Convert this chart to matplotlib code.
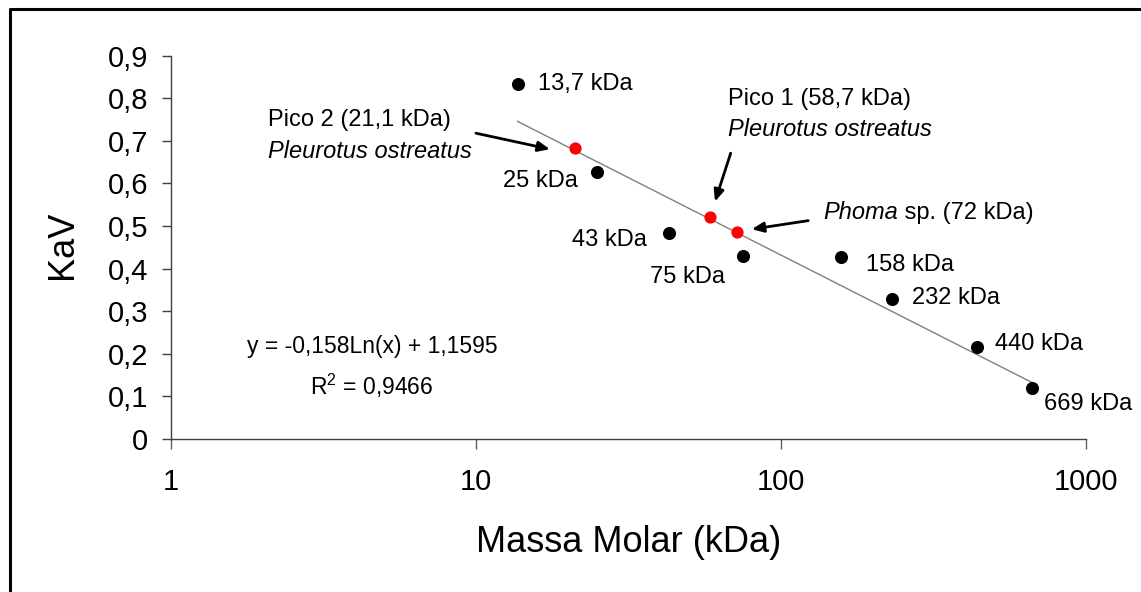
import numpy as np
import matplotlib
matplotlib.use("Agg")
import matplotlib.pyplot as plt
from matplotlib.lines import Line2D

plt.rcParams['font.family'] = ['Liberation Sans', 'DejaVu Sans']
plt.rcParams['mathtext.fontset'] = 'custom'
plt.rcParams['mathtext.rm'] = 'Liberation Sans'
plt.rcParams['mathtext.it'] = 'Liberation Sans:italic'

# padrões de calibração (massa molar em kDa, KaV)
padrao_mm = [13.7, 25, 43, 75, 158, 232, 440, 669]
padrao_kav = [0.834, 0.628, 0.483, 0.430, 0.427, 0.328, 0.215, 0.120]
padrao_rot = ['13,7 kDa', '25 kDa', '43 kDa', '75 kDa', '158 kDa', '232 kDa', '440 kDa', '669 kDa']

# amostras
amostra_mm = [21.1, 58.7, 72]
amostra_kav = [0.684, 0.521, 0.487]

# ajuste logaritmico
coef_a = -0.158
coef_b = 1.1595
r2 = '0,9466'

y_ticks = [0, 0.1, 0.2, 0.3, 0.4, 0.5, 0.6, 0.7, 0.8, 0.9]
y_ticklabels = ['0', '0,1', '0,2', '0,3', '0,4', '0,5', '0,6', '0,7', '0,8', '0,9']
x_ticks = [1, 10, 100, 1000]
x_ticklabels = ['1', '10', '100', '1000']

# deslocamento dos rótulos (pontos) e alinhamento
desloc = [(15, 0, 'left'), (-14, -7, 'right'), (-16, -5, 'right'), (-13, -15, 'right'),
          (18, -6, 'left'), (14, 0.5, 'left'), (13, 2.5, 'left'), (8, -12, 'left')]

fig = plt.figure(figsize=(11.41, 5.92), dpi=100)
ax = fig.add_axes([0.1499, 0.259, 0.8016, 0.6466])

xs = np.geomspace(padrao_mm[0], padrao_mm[-1], 60)
ax.plot(xs, coef_a * np.log(xs) + coef_b, color='#808080', lw=1.0, zorder=2)
ax.plot(padrao_mm, padrao_kav, 'o', color='black', ms=8.4, zorder=3)
ax.plot(amostra_mm, amostra_kav, 'o', color='#ff0000', ms=7.8, zorder=3)

for x, y, rot, (dx, dy, ha) in zip(padrao_mm, padrao_kav, padrao_rot, desloc):
    ax.annotate(rot, (x, y), xytext=(dx, dy), textcoords='offset points',
                ha=ha, va='center', fontsize=17)

ax.set_xscale('log')
ax.set_xlim(1, 1000)
ax.set_ylim(0, 0.9)
ax.set_xticks(x_ticks)
ax.set_xticklabels(x_ticklabels)
ax.xaxis.set_minor_locator(matplotlib.ticker.NullLocator())
ax.set_yticks(y_ticks)
ax.set_yticklabels(y_ticklabels)

for s in ['top', 'right']:
    ax.spines[s].set_visible(False)
for s in ['left', 'bottom']:
    ax.spines[s].set_color('#404040')
    ax.spines[s].set_linewidth(1.0)
ax.tick_params(axis='y', length=6.5, width=1, color='#404040', labelsize=21, pad=10)
ax.tick_params(axis='x', length=7, width=1, color='#606060', labelsize=21, pad=14)

ax.set_xlabel('Massa Molar (kDa)', fontsize=26)
ax.set_ylabel('KaV', fontsize=26)
ax.xaxis.set_label_coords(0.5, -0.2725)
ax.xaxis.label.set_va('center')
ax.yaxis.set_label_coords(-0.1192, 0.506)
ax.yaxis.label.set_va('center')

# equação da curva
ax.text(0.2197, 0.2396, 'y = -0,158Ln(x) + 1,1595', transform=ax.transAxes,
        ha='center', va='center', fontsize=16.5)
ax.text(0.2197, 0.1377, r'R$^2$ = ' + r2, transform=ax.transAxes,
        ha='center', va='center', fontsize=16.5)

# identificação dos picos
ax.text(0.106, 0.8328, 'Pico 2 (21,1 kDa)', transform=ax.transAxes,
        ha='left', va='center', fontsize=17)
ax.text(0.106, 0.75, 'Pleurotus ostreatus', transform=ax.transAxes,
        ha='left', va='center', fontsize=17, style='italic')
ax.text(0.609, 0.8869, 'Pico 1 (58,7 kDa)', transform=ax.transAxes,
        ha='left', va='center', fontsize=17)
ax.text(0.609, 0.8066, 'Pleurotus ostreatus', transform=ax.transAxes,
        ha='left', va='center', fontsize=17, style='italic')
t1 = ax.text(0.7131, 0.5916, 'Phoma', transform=ax.transAxes,
             ha='left', va='center', fontsize=17, style='italic')
ax.annotate(' sp. (72 kDa)', xy=(1, 0), xycoords=t1, ha='left', va='bottom', fontsize=17)

seta = dict(arrowstyle='-|>,head_length=0.7,head_width=0.3', lw=2, color='black',
            shrinkA=0, shrinkB=0)
ax.annotate('', xy=(0.4143, 0.7562), xytext=(0.3334, 0.798),
            xycoords='axes fraction', arrowprops=seta)
ax.annotate('', xy=(0.5947, 0.6193), xytext=(0.6119, 0.7458),
            xycoords='axes fraction', arrowprops=seta)
ax.annotate('', xy=(0.6349, 0.5472), xytext=(0.6967, 0.5696),
            xycoords='axes fraction', arrowprops=seta)

# moldura
fig.add_artist(Line2D([0.0092, 0.0092, 1.0], [0.0, 0.984, 0.984],
                      transform=fig.transFigure, color='black', lw=2.2))

fig.savefig('out.png', dpi=100)
